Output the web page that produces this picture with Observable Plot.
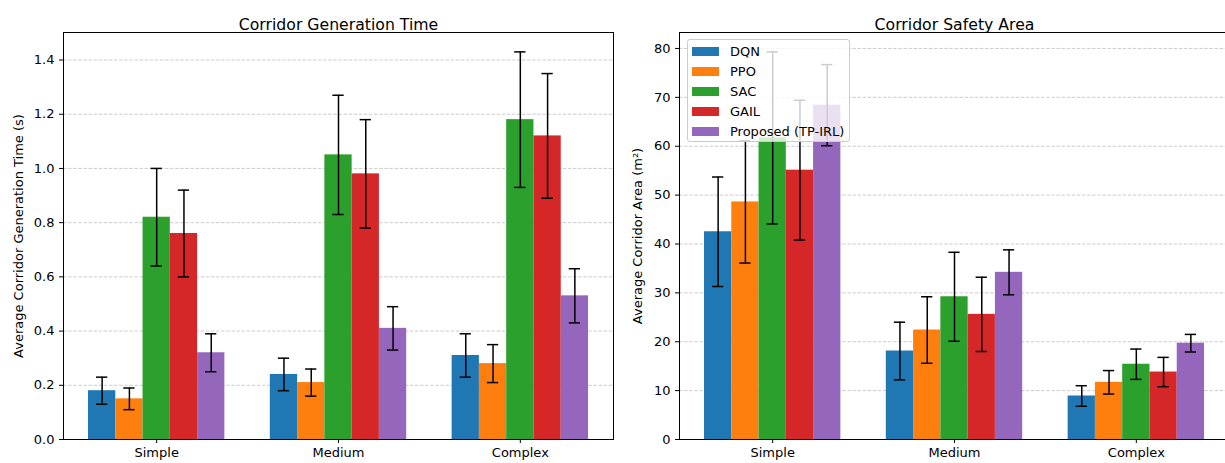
<!DOCTYPE html>
<html>
<head>
<meta charset="utf-8">
<script src="https://cdn.jsdelivr.net/npm/d3@7"></script>
<script src="https://cdn.jsdelivr.net/npm/@observablehq/plot@0.6"></script>
<style>
  html, body { margin: 0; padding: 0; background: #fff; overflow: hidden; }
  #wrap { position: relative; width: 1225px; height: 463px; overflow: hidden; font-family: "DejaVu Sans", sans-serif; }
  #left, #right { position: absolute; top: 0; height: 463px; }
  #left { left: 0; width: 620px; }
  #right { left: 620px; width: 610px; }
  #left svg, #right svg { max-width: none !important; display: block; }
  #legend { position: absolute; left: 687px; top: 39px; width: 163px; height: 103px;
    background: rgba(255,255,255,0.8); border: 1px solid #cccccc; border-radius: 3px; box-sizing: border-box; }
  .li { position: absolute; left: 4px; height: 20px; display: flex; align-items: center; font-size: 13px; color: #000; white-space: nowrap; }
  .sw { width: 27px; height: 9px; margin-right: 11px; }
</style>
</head>
<body>
<div id="wrap">
  <div id="left"></div>
  <div id="right"></div>
  <div id="legend"></div>
</div>
<script>
const categories = ["Simple", "Medium", "Complex"];
const methods = ["DQN", "PPO", "SAC", "GAIL", "Proposed (TP-IRL)"];
const colors = ["#1f77b4", "#ff7f0e", "#2ca02c", "#d62728", "#9467bd"];

// [method][category]
const timeMean = [
  [0.18, 0.24, 0.31],
  [0.15, 0.21, 0.28],
  [0.82, 1.05, 1.18],
  [0.76, 0.98, 1.12],
  [0.32, 0.41, 0.53]
];
const timeErr = [
  [0.05, 0.06, 0.08],
  [0.04, 0.05, 0.07],
  [0.18, 0.22, 0.25],
  [0.16, 0.20, 0.23],
  [0.07, 0.08, 0.10]
];
const areaMean = [
  [42.5, 18.1, 8.9],
  [48.6, 22.4, 11.7],
  [61.7, 29.2, 15.4],
  [55.1, 25.6, 13.8],
  [68.4, 34.2, 19.7]
];
const areaErr = [
  [11.2, 5.9, 2.1],
  [12.5, 6.8, 2.4],
  [17.6, 9.1, 3.1],
  [14.3, 7.6, 3.0],
  [8.3, 4.6, 1.8]
];
const timeTicks = [0, 0.2, 0.4, 0.6, 0.8, 1.0, 1.2, 1.4];
const areaTicks = [0, 10, 20, 30, 40, 50, 60, 70, 80];

const barW = 0.15;
const capHalf = 0.031;
const xLo = -2.5 * barW, xHi = (categories.length - 1) + 2.5 * barW;
const xPad = (xHi - xLo) * 0.05;
const xDomain = [xLo - xPad, xHi + xPad];

function rowsOf(means, errs) {
  const rows = [];
  methods.forEach((m, mi) => {
    categories.forEach((c, ci) => {
      rows.push({method: m, mi, cat: c, ci, cx: ci + (mi - 2) * barW, mean: means[mi][ci], err: errs[mi][ci]});
    });
  });
  return rows;
}

function panel({means, errs, ticks, fmt, title, ylabel, width, mLeft, mRight, labelDx}) {
  const rows = rowsOf(means, errs);
  const top = d3.max(rows, d => d.mean + d.err) * 1.05;
  return Plot.plot({
    width, height: 463,
    marginLeft: mLeft, marginRight: mRight, marginTop: 32, marginBottom: 24,
    style: {fontFamily: "DejaVu Sans, sans-serif", fontSize: "13px", color: "#000", background: "transparent", overflow: "visible"},
    x: {domain: xDomain, axis: null},
    y: {domain: [0, top], axis: null},
    color: {domain: methods, range: colors},
    marks: [
      Plot.gridY(ticks, {stroke: "#b0b0b0", strokeOpacity: 0.7, strokeDasharray: "3.5,1.6", strokeWidth: 0.9}),
      Plot.rectY(rows, {x1: d => d.cx - barW / 2, x2: d => d.cx + barW / 2, y1: 0, y2: "mean", fill: "method", insetLeft: 0, insetRight: 0}),
      Plot.ruleX(rows, {x: "cx", y1: d => d.mean - d.err, y2: d => d.mean + d.err, stroke: "#000", strokeWidth: 1.5}),
      Plot.ruleY(rows, {y: d => d.mean + d.err, x1: d => d.cx - capHalf, x2: d => d.cx + capHalf, stroke: "#000", strokeWidth: 1.5}),
      Plot.ruleY(rows, {y: d => d.mean - d.err, x1: d => d.cx - capHalf, x2: d => d.cx + capHalf, stroke: "#000", strokeWidth: 1.5}),
      Plot.axisY(ticks, {tickFormat: fmt, tickSize: 4, tickPadding: 5, label: null, fontSize: 13}),
      Plot.axisX(categories.map((c, i) => i), {tickFormat: i => categories[i], tickSize: 4, tickPadding: 4, label: null, fontSize: 13}),
      Plot.frame({stroke: "#000", strokeWidth: 1}),
      Plot.text([title], {frameAnchor: "top", dy: -14, fontSize: 15.7}),
      Plot.text([ylabel], {frameAnchor: "left", textAnchor: "middle", lineAnchor: "middle", rotate: -90, dx: labelDx, fontSize: 13})
    ]
  });
}

document.getElementById("left").append(panel({
  means: timeMean, errs: timeErr, ticks: timeTicks, fmt: d3.format(".1f"),
  title: "Corridor Generation Time", ylabel: "Average Corridor Generation Time (s)",
  width: 620, mLeft: 63, mRight: 7, labelDx: -45
}));
document.getElementById("right").append(panel({
  means: areaMean, errs: areaErr, ticks: areaTicks, fmt: d3.format("d"),
  title: "Corridor Safety Area", ylabel: "Average Corridor Area (m²)",
  width: 610, mLeft: 59, mRight: 1, labelDx: -42
}));

const legend = document.getElementById("legend");
methods.forEach((m, i) => {
  const row = document.createElement("div");
  row.className = "li";
  row.style.top = (1 + 20.2 * i) + "px";
  const sw = document.createElement("span");
  sw.className = "sw";
  sw.style.background = colors[i];
  row.append(sw);
  row.append(document.createTextNode(m));
  legend.append(row);
});
</script>
</body>
</html>
